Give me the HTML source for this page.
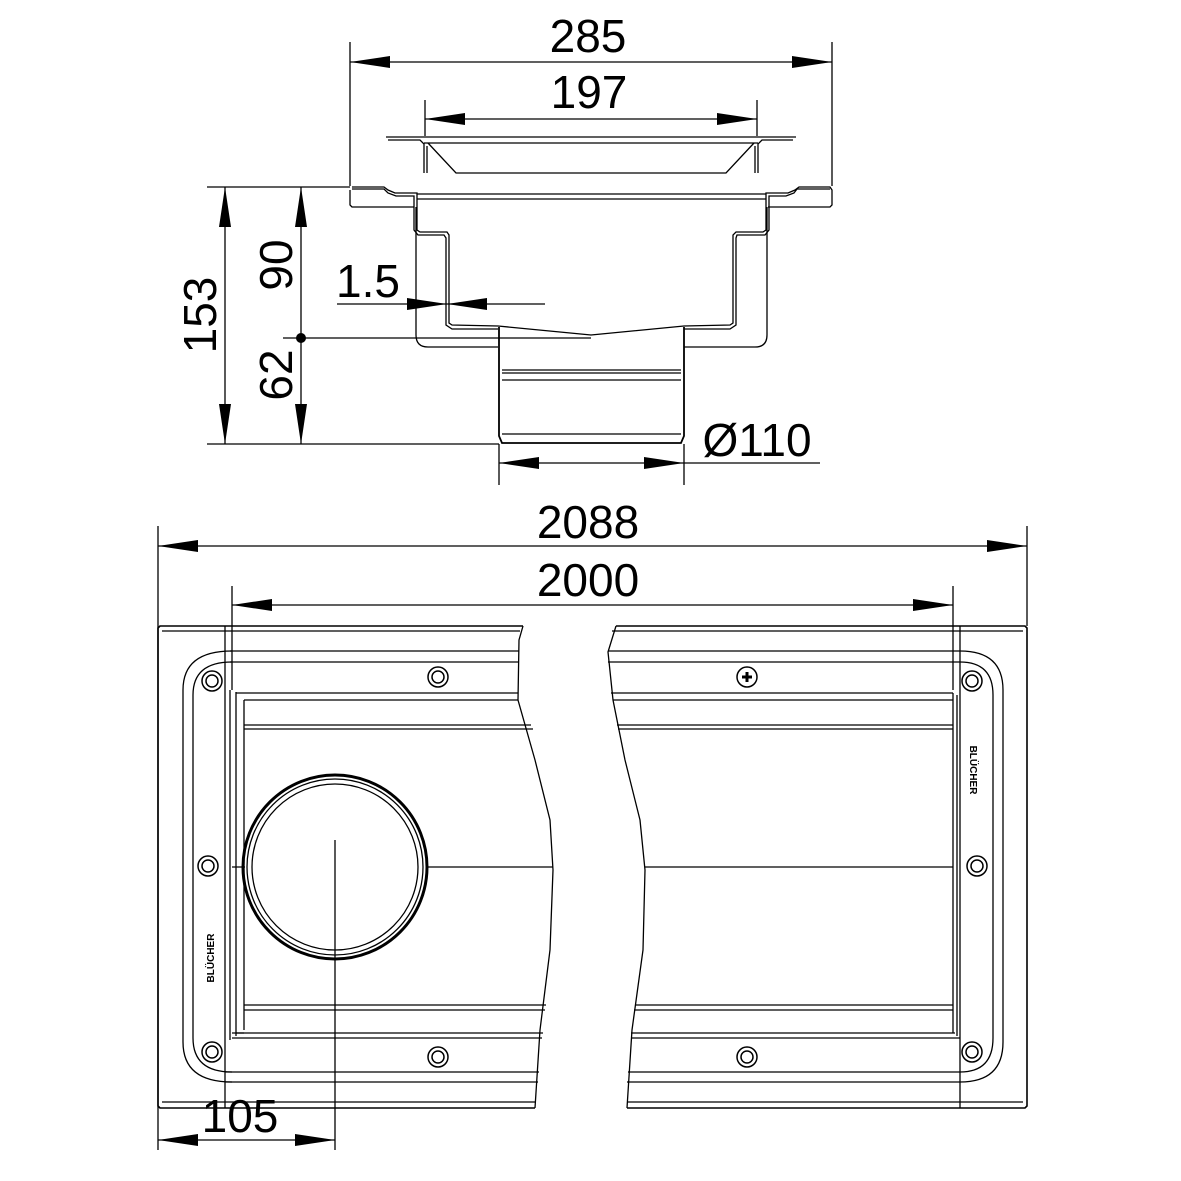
<!DOCTYPE html>
<html><head><meta charset="utf-8"><style>
html,body{margin:0;padding:0;background:#fff;}
svg{display:block;}
text{font-family:"Liberation Sans",sans-serif;fill:#000;}
</style></head><body>
<svg width="1181" height="1181" viewBox="0 0 1181 1181" xmlns="http://www.w3.org/2000/svg">
<defs>
<marker id="a" viewBox="-40 0 40 12" refX="0" refY="6" markerWidth="40" markerHeight="12" markerUnits="userSpaceOnUse" orient="auto-start-reverse"><path d="M0,6 L-40,0 L-40,12 Z" fill="#000"/></marker>
</defs>
<g fill="none" stroke="#000" stroke-width="1.3">
<!-- TOP VIEW dimensions -->
<line x1="350" y1="42" x2="350" y2="186"/>
<line x1="832" y1="42" x2="832" y2="186"/>
<line x1="350" y1="62" x2="832" y2="62" marker-start="url(#a)" marker-end="url(#a)"/>
<line x1="425" y1="100" x2="425" y2="136"/>
<line x1="757" y1="100" x2="757" y2="136"/>
<line x1="425" y1="119" x2="757" y2="119" marker-start="url(#a)" marker-end="url(#a)"/>
<line x1="207" y1="187" x2="350" y2="187"/>
<line x1="207" y1="444" x2="499" y2="444"/>
<line x1="283" y1="338" x2="591" y2="338"/>
<line x1="225" y1="187" x2="225" y2="444" marker-start="url(#a)" marker-end="url(#a)"/>
<line x1="301" y1="187" x2="301" y2="338" marker-start="url(#a)"/>
<line x1="301" y1="338" x2="301" y2="444" marker-end="url(#a)"/>
<line x1="337" y1="304" x2="545" y2="304"/>
<path d="M407,298 L447,304 L407,310 Z M487,298 L447,304 L487,310 Z" fill="#000" stroke="none"/>
<line x1="499" y1="444" x2="499" y2="485"/>
<line x1="684" y1="444" x2="684" y2="485"/>
<line x1="499" y1="463" x2="820" y2="463"/>
<path d="M499,463 L539,457 L539,469 Z M684,463 L644,457 L644,469 Z" fill="#000" stroke="none"/>
<!-- grate -->
<path d="M386,137 L796,137 M388,140 L420,140 L424,144 L424,173 M793,140 L762,140 L758,144 L758,173 M424,143 L758,143"/>
<path d="M428,143 L456,173 L726,173 L754,143"/>
<path d="M427,146 L427,173 M755,146 L755,173"/>
<!-- frame -->
<path d="M352,187 L384,187 L388,190 L395,193 L417,193 L417,230 L420,232 L447,232 L449,235 L449,323 L452,325 L498,326 L591,335 L684,326 L730,325 L733,323 L733,235 L736,232 L763,232 L766,230 L766,193 L788,193 L795,190 L799,187 L830,187 L832,190 L832,205 L830,207 L768,207"/>
<path d="M350,190 L350,205 L352,207 L414,207"/>
<path d="M352,189 L384,189 L388,193 L396,196 L414,196 L414,230 L418,235 L444,235 L446,238 L446,325 L452,329 L498,329"/>
<path d="M830,189 L797,189 L794,193 L786,196 L769,196 L769,230 L765,235 L737,235 L736,238 L736,325 L730,329 L684,329"/>
<path d="M417,194 L766,194 M417,199 L766,199"/>
<path d="M416,207 L416,335 Q416,347 428,347 L498,347"/>
<path d="M767,207 L767,335 Q767,347 755,347 L684,347"/>
<!-- pipe -->
<path d="M499,327 L499,436 L502,443 L681,443 L684,436 L684,327" stroke-width="1.8"/>
<path d="M502,370 L681,370 M502,380 L681,380 M502,434 L681,434 M502,373 L681,373"/>
<!-- BOTTOM VIEW dimensions -->
<line x1="158" y1="526" x2="158" y2="1150"/>
<line x1="1027" y1="526" x2="1027" y2="626"/>
<line x1="158" y1="546" x2="1027" y2="546" marker-start="url(#a)" marker-end="url(#a)"/>
<line x1="232" y1="586" x2="232" y2="690"/>
<line x1="953" y1="586" x2="953" y2="690"/>
<line x1="232" y1="605" x2="953" y2="605" marker-start="url(#a)" marker-end="url(#a)"/>
<line x1="335" y1="840" x2="335" y2="1150"/>
<line x1="158" y1="1140" x2="335" y2="1140" marker-start="url(#a)" marker-end="url(#a)"/>
<!-- left piece -->
<path d="M523,626 L160,626 L158,628 L158,1106 L160,1108 L535,1108" stroke-width="1.6"/>
<path d="M523,626 L519,640 L518,700 L535,760 L550,820 L553,870 L550,950 L540,1030 L535,1108"/>
<path d="M162,631 L520,631 M225,626 L225,1108 M230,651 L519,651 M230,662 L518,662 M236,693 L518,693 M244,700 L518,700 M244,725 L531,725 M244,729 L533,729 M244,1005 L546,1005 M244,1010 L545,1010 M232,1033 L543,1033 M232,1038 L542,1038 M225,1072 L539,1072 M225,1082 L538,1082 M162,1102 L535,1102"/>
<path d="M232,867 L245,867 M428,867 L553,867"/>
<path d="M232,651 Q183,651 183,690 L183,1042 Q183,1082 232,1082"/>
<path d="M232,662 Q193,662 193,695 L193,1038 Q193,1072 232,1072"/>
<path d="M230,690 L230,1040 M236,692 L236,1036 M244,700 L244,1030 M236,1033 L244,1033"/>
<!-- right piece -->
<path d="M616,626 L1025,626 L1027,628 L1027,1106 L1025,1108 L627,1108" stroke-width="1.6"/>
<path d="M616,626 L608,652 L613,700 L625,760 L640,820 L645,870 L643,950 L632,1030 L627,1108"/>
<path d="M612,631 L1023,631 M960,626 L960,1108 M608,651 L960,651 M608,662 L960,662 M611,693 L953,693 M613,700 L953,700 M617,725 L953,725 M618,729 L953,729 M635,1005 L953,1005 M634,1010 L953,1010 M631,1033 L955,1033 M631,1038 L960,1038 M628,1072 L960,1072 M627,1082 L960,1082 M627,1102 L1023,1102"/>
<path d="M645,867 L953,867"/>
<path d="M960,651 Q1003,651 1003,690 L1003,1042 Q1003,1082 960,1082"/>
<path d="M960,662 Q993,662 993,695 L993,1038 Q993,1072 960,1072"/>
<path d="M953,693 L953,1033 M957,695 L957,1036"/>
<!-- outlet circle -->
<circle cx="335" cy="867" r="92" stroke-width="3"/>
<circle cx="335" cy="867" r="88"/>
<circle cx="335" cy="867" r="83"/>
<!-- screws -->
<g stroke-width="1.5">
<circle cx="212" cy="681" r="10"/><circle cx="212" cy="681" r="6"/>
<circle cx="438" cy="677" r="10"/><circle cx="438" cy="677" r="6"/>
<circle cx="208" cy="866" r="10"/><circle cx="208" cy="866" r="6"/>
<circle cx="212" cy="1052" r="10"/><circle cx="212" cy="1052" r="6"/>
<circle cx="438" cy="1057" r="10"/><circle cx="438" cy="1057" r="6"/>
<circle cx="747" cy="677" r="10"/>
<path d="M747,672 L747,682 M742,677 L752,677" stroke-width="3"/>
<circle cx="972" cy="681" r="10"/><circle cx="972" cy="681" r="6"/>
<circle cx="977" cy="866" r="10"/><circle cx="977" cy="866" r="6"/>
<circle cx="972" cy="1052" r="10"/><circle cx="972" cy="1052" r="6"/>
<circle cx="747" cy="1057" r="10"/><circle cx="747" cy="1057" r="6"/>
</g>
</g>
<circle cx="301" cy="338" r="5" fill="#000"/>
<!-- labels -->
<g font-size="46">
<text x="588" y="52" text-anchor="middle">285</text>
<text x="589" y="108" text-anchor="middle">197</text>
<text x="368" y="297" text-anchor="middle">1.5</text>
<text x="757" y="456" text-anchor="middle">Ø110</text>
<text transform="translate(216,315) rotate(-90)" text-anchor="middle">153</text>
<text transform="translate(292,265) rotate(-90)" text-anchor="middle">90</text>
<text transform="translate(292,375) rotate(-90)" text-anchor="middle">62</text>
<text x="588" y="538" text-anchor="middle">2088</text>
<text x="588" y="596" text-anchor="middle">2000</text>
<text x="240" y="1132" text-anchor="middle">105</text>
</g>
<g font-size="10" font-weight="bold">
<text transform="translate(214,958) rotate(-90)" text-anchor="middle">BLÜCHER</text>
<text transform="translate(970,770) rotate(90)" text-anchor="middle">BLÜCHER</text>
</g>
</svg>
</body></html>
